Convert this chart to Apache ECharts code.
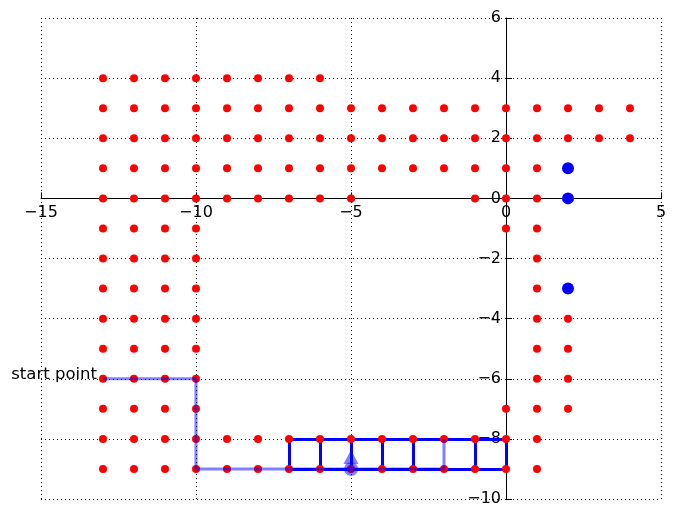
<!DOCTYPE html>
<html>
<head>
<meta charset="utf-8">
<script src="https://cdn.jsdelivr.net/npm/echarts@6/dist/echarts.min.js"></script>
<style>html,body{margin:0;padding:0;background:#fff}#c{width:674px;height:518px}</style>
</head>
<body>
<div id="c"></div>
<script>
// ---- data ----
const xTicks = [-15, -10, -5, 0, 5];
const yTicks = [-10, -8, -6, -4, -2, 0, 2, 4, 6];
const redRowY = [4, 3, 2, 1, 0, -1, -2, -3, -4, -5, -6, -7, -8, -9];
const redRowX = [
  [-13, -12, -11, -10, -9, -8, -7, -6],
  [-13, -12, -11, -10, -9, -8, -7, -6, -5, -4, -3, -2, -1, 0, 1, 2, 3, 4],
  [-13, -12, -11, -10, -9, -8, -7, -6, -5, -4, -3, -2, -1, 0, 1, 2, 3, 4],
  [-13, -12, -11, -10, -9, -8, -7, -6, -5, -4, -3, -2, -1, 0, 1],
  [-13, -12, -11, -10, -9, -8, -7, -6, -5, -1, 0, 1],
  [-13, -12, -11, -10, 0, 1],
  [-13, -12, -11, -10, 1],
  [-13, -12, -11, -10, 1],
  [-13, -12, -11, -10, 1, 2],
  [-13, -12, -11, -10, 1, 2],
  [-13, -12, -11, -10, 1, 2],
  [-13, -12, -11, -10, 0, 1, 2],
  [-13, -12, -11, -10, -9, -8, -7, -6, -5, -4, -3, -2, -1, 0, 1],
  [-13, -12, -11, -10, -9, -8, -7, -6, -5, -4, -3, -2, -1, 0, 1]
];
const bluePoints = [[2, 1], [2, 0], [2, -3]];
const ghostPath = [[-13, -6], [-10, -6], [-10, -9], [-2, -9], [-2, -8]];
const boxTopY = -8;
const boxBottomY = -9;
const boxXStart = -7;
const boxXEnd = 0;
const boxVerticalX = [-7, -6, -5, -4, -3, -1, 0];
const arrowBase = [-5, -9];
const arrowHead = [-5, -8.6];
const startLabel = 'start point';
const startPoint = [-13, -6];

// ---- build ----
const redPoints = [];
redRowY.forEach((y, i) => redRowX[i].forEach(x => redPoints.push([x, y])));
const solidSegs = [
  { coords: [[boxXStart, boxTopY], [boxXEnd, boxTopY]] },
  { coords: [[boxXStart, boxBottomY], [boxXEnd, boxBottomY]] }
];
boxVerticalX.forEach(x => solidSegs.push({ coords: [[x, boxTopY], [x, boxBottomY]] }));

const fmt = v => String(v).replace('-', '\u2212');
const FONT = 'DejaVu Sans';
const G = { left: 41, right: 13, top: 18, bottom: 19 };
const W = 674, H = 518;

const chart = echarts.init(document.getElementById('c'), null, { renderer: 'canvas' });
chart.setOption({
  animation: false,
  backgroundColor: '#fff',
  grid: { left: G.left, right: G.right, top: G.top, bottom: G.bottom, containLabel: false, outerBoundsMode: 'none' },
  xAxis: {
    type: 'value', min: xTicks[0], max: xTicks[xTicks.length - 1], interval: 5,
    position: 'bottom', offset: 0,
    axisLine: { onZero: false, lineStyle: { color: '#000', width: 1 } },
    axisTick: { inside: true, length: 6, lineStyle: { color: '#000' } },
    axisLabel: { formatter: fmt, color: '#000', fontSize: 16, fontFamily: FONT, margin: 6, showMinLabel: true, showMaxLabel: true },
    splitLine: { show: true, lineStyle: { color: '#000', width: 1, type: [1, 3] } }
  },
  yAxis: {
    type: 'value', min: yTicks[0], max: yTicks[yTicks.length - 1], interval: 2,
    position: 'left', offset: 0,
    axisLine: { onZero: false, lineStyle: { color: '#000', width: 1 } },
    axisTick: { inside: true, length: 6, lineStyle: { color: '#000' } },
    axisLabel: { formatter: fmt, color: '#000', fontSize: 16, fontFamily: FONT, margin: 5, showMinLabel: true, showMaxLabel: true },
    splitLine: { show: true, lineStyle: { color: '#000', width: 1, type: [1, 3] } }
  },
  series: [
    {
      type: 'scatter', data: redPoints, symbol: 'circle', symbolSize: 8,
      itemStyle: { color: '#ff0000', opacity: 1 }, silent: true
    },
    {
      type: 'line', data: ghostPath, symbol: 'none',
      lineStyle: { color: '#0000ff', width: 3, opacity: 0.5 }, silent: true
    },
    {
      type: 'lines', coordinateSystem: 'cartesian2d', data: solidSegs,
      lineStyle: { color: '#0000ff', width: 3, opacity: 1 }, silent: true
    },
    {
      type: 'scatter', data: [arrowBase], symbol: 'circle', symbolSize: 14,
      itemStyle: { color: '#0000ff', opacity: 0.5 }, silent: true
    },
    {
      type: 'scatter', data: [arrowHead], symbol: 'triangle', symbolSize: [15, 14],
      itemStyle: { color: '#0000ff', opacity: 0.5 }, silent: true
    },
    {
      type: 'scatter', data: bluePoints, symbol: 'circle', symbolSize: 12,
      itemStyle: { color: '#0000ff', opacity: 1 }, silent: true
    },
    {
      type: 'scatter', data: [startPoint], symbolSize: 0, silent: true,
      itemStyle: { opacity: 1 },
      label: {
        show: true, position: 'left', distance: 6, offset: [0, -4],
        formatter: startLabel, color: '#000', opacity: 1, fontSize: 16.5, fontFamily: FONT
      }
    }
  ]
});
// move the axes so they cross at the origin (spines at zero)
const zero = chart.convertToPixel({ gridIndex: 0 }, [0, 0]);
chart.setOption({
  xAxis: { offset: -((H - G.bottom) - zero[1]) },
  yAxis: { offset: -(zero[0] - G.left) }
});
</script>
</body>
</html>
